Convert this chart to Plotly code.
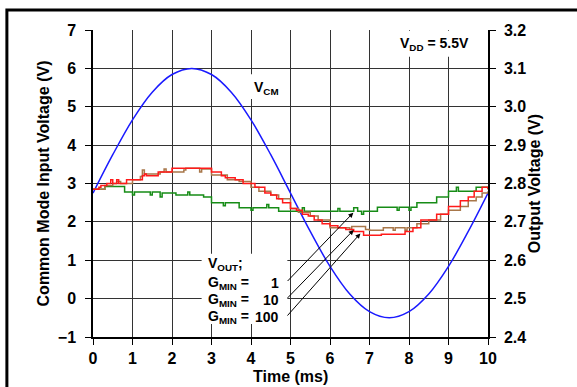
import plotly.graph_objects as go

# ---- data ----
# Common-mode input (left axis, V)
t_cm = [0, 0.5, 1.0, 1.5, 2.0, 2.5, 3.0, 3.5, 4.0, 4.5, 5.0,
        5.5, 6.0, 6.5, 7.0, 7.5, 8.0, 8.5, 9.0, 9.5, 10]
v_cm = [2.75, 3.75, 4.66, 5.38, 5.84, 6.00, 5.84, 5.38, 4.66, 3.75, 2.75,
        1.75, 0.84, 0.12, -0.34, -0.50, -0.34, 0.12, 0.84, 1.75, 2.75]

# Output voltage (right axis, V), stepped traces
t_g1 = [0, 0.3, 0.8, 1.0, 1.05, 1.45, 1.5, 1.7, 1.75, 2.1, 2.4, 2.45, 2.8, 3.0,
        3.3, 3.35, 3.7, 4.0, 4.05, 4.4, 4.45, 4.7, 5.3, 5.35, 6.2, 6.25, 6.6,
        6.7, 6.8, 6.85, 7.2, 7.7, 7.75, 8.0, 8.05, 8.2, 8.7, 9.0, 9.2, 9.25,
        9.7, 10]
v_g1 = [2.785, 2.792, 2.778, 2.770, 2.778, 2.770, 2.778, 2.765, 2.775, 2.770, 2.778, 2.770,
        2.765, 2.750, 2.742, 2.750, 2.737, 2.730, 2.737, 2.745, 2.737, 2.728, 2.737, 2.728,
        2.735, 2.728, 2.737, 2.728, 2.720, 2.728, 2.738, 2.730, 2.738, 2.730, 2.738, 2.750,
        2.765, 2.780, 2.790, 2.780, 2.790, 2.785]

t_g10 = [0, 0.3, 0.5, 0.6, 0.7, 1.0, 1.2, 1.25, 1.3, 1.7, 1.8, 1.85, 2.0, 2.3, 2.35,
         2.7, 2.75, 3.0, 3.4, 3.7, 4.0, 4.2, 4.5, 4.7, 5.0, 5.2, 5.5, 5.7, 6.0, 6.5,
         6.55, 6.9, 7.0, 7.3, 7.35, 7.6, 7.65, 7.9, 7.95, 8.2, 8.5, 8.8, 9.0, 9.3,
         9.5, 9.7, 9.85, 10]
v_g10 = [2.785, 2.795, 2.800, 2.805, 2.800, 2.810, 2.818, 2.835, 2.825, 2.830, 2.838, 2.830,
         2.830, 2.835, 2.840, 2.830, 2.838, 2.822, 2.810, 2.805, 2.790, 2.780, 2.770, 2.760,
         2.735, 2.725, 2.715, 2.705, 2.685, 2.680, 2.688, 2.680, 2.678, 2.678, 2.685, 2.678,
         2.685, 2.678, 2.685, 2.695, 2.705, 2.720, 2.730, 2.740, 2.755, 2.765, 2.775, 2.780]

t_g100 = [0, 0.15, 0.2, 0.35, 0.45, 0.5, 0.6, 0.65, 0.85, 1.25, 1.3, 1.35, 1.65, 2.0,
          3.0, 3.25, 3.35, 3.6, 3.8, 4.1, 4.35, 4.5, 4.65, 4.8, 5.0, 5.15, 5.3,
          5.45, 5.6, 5.8, 6.0, 6.2, 6.4, 6.6, 6.85, 7.3, 7.9, 8.1, 8.3, 8.7,
          9.0, 9.3, 9.5, 9.65, 9.85, 10]
v_g100 = [2.785, 2.790, 2.795, 2.800, 2.810, 2.800, 2.810, 2.800, 2.810, 2.820, 2.825, 2.820,
          2.830, 2.840, 2.830, 2.820, 2.815, 2.810, 2.800, 2.790, 2.775, 2.770, 2.760, 2.750,
          2.735, 2.730, 2.720, 2.715, 2.705, 2.695, 2.690, 2.685, 2.680, 2.675, 2.665, 2.668,
          2.675, 2.685, 2.705, 2.720, 2.740, 2.755, 2.765, 2.780, 2.790, 2.785]

x_ticks = list(range(0, 11))
left_ticks = list(range(-1, 8))
right_ticks = [2.4, 2.5, 2.6, 2.7, 2.8, 2.9, 3.0, 3.1, 3.2]

FONT = "Liberation Sans, Arial, sans-serif"
GRID = "#333333"

fig = go.Figure()

fig.add_trace(go.Scatter(x=t_g1, y=v_g1, yaxis="y2", mode="lines", line_shape="hv",
                         line=dict(color="#168c16", width=1.5), showlegend=False))
fig.add_trace(go.Scatter(x=t_g10, y=v_g10, yaxis="y2", mode="lines", line_shape="hv",
                         line=dict(color="#a8774a", width=1.5), showlegend=False))
fig.add_trace(go.Scatter(x=t_g100, y=v_g100, yaxis="y2", mode="lines", line_shape="hv",
                         line=dict(color="#ff1a1a", width=1.5), showlegend=False))
fig.add_trace(go.Scatter(x=t_cm, y=v_cm, mode="lines", line_shape="spline",
                         line=dict(color="#1a1aff", width=1.5), showlegend=False))

# white boxes behind the labels (between gridlines and traces)
fig.add_shape(type="rect", x0=2.75, x1=4.92, y0=-0.66, y1=1.17, xref="x", yref="y",
              fillcolor="white", line_width=0, layer="between")
fig.add_shape(type="rect", x0=3.95, x1=4.78, y0=5.2, y1=5.85, xref="x", yref="y",
              fillcolor="white", line_width=0, layer="between")
fig.add_shape(type="rect", x0=7.65, x1=9.6, y0=6.3, y1=6.98, xref="x", yref="y",
              fillcolor="white", line_width=0, layer="between")

# outer frame
fig.add_shape(type="rect", xref="paper", yref="paper", x0=-0.218, x1=1.4, y0=-0.4, y1=1.065,
              line=dict(color="black", width=3), fillcolor="rgba(0,0,0,0)")

lab = dict(family=FONT, size=14, color="black")
fig.add_annotation(x=4.4, y=5.5, text="<b>V<sub>CM</sub></b>", showarrow=False, font=lab)
fig.add_annotation(x=8.64, y=6.63, text="<b>V<sub>DD</sub> = 5.5V</b>", showarrow=False, font=lab)
fig.add_annotation(x=2.86, y=0.90, text="<b>V<sub>OUT</sub>;</b>", showarrow=False,
                   xanchor="left", font=lab)
for yy, num in zip([0.41, -0.03, -0.48], ["1", "10", "100"]):
    fig.add_annotation(x=2.86, y=yy, text="<b>G<sub>MIN</sub> =</b>", showarrow=False,
                       xanchor="left", font=lab)
    fig.add_annotation(x=4.76, y=yy, text="<b>" + num + "</b>", showarrow=False,
                       xanchor="right", font=lab)

# arrows from the G_MIN labels to the traces
for (x0, y0, x1, y1) in [(4.89, 0.42, 6.59, 2.24), (4.89, -0.02, 6.6, 1.79), (4.89, -0.48, 6.77, 1.70)]:
    fig.add_annotation(x=x1, y=y1, ax=x0, ay=y0, xref="x", yref="y", axref="x", ayref="y",
                       text="", showarrow=True, arrowhead=2, arrowsize=1, arrowwidth=1,
                       arrowcolor="black")

tickfont = dict(family=FONT, size=16, color="black", weight="bold")
titlefont = dict(family=FONT, size=16, color="black", weight="bold")

# x-axis title placed as an annotation so it sits right under the tick labels
fig.add_annotation(x=0.5, y=-0.130, xref="paper", yref="paper", text="Time (ms)",
                   showarrow=False, yanchor="middle", font=titlefont)

fig.update_layout(
    width=577, height=387,
    margin=dict(l=93, r=89, t=30, b=50),
    paper_bgcolor="white", plot_bgcolor="white",
    xaxis=dict(range=[0, 10], tickvals=x_ticks, showgrid=True, gridcolor=GRID, gridwidth=1,
               showline=True, linecolor="black", linewidth=1.5, ticks="outside", ticklen=6,
               tickcolor="black", tickfont=tickfont, zeroline=False, ticklabelstandoff=0),
    yaxis=dict(range=[-1, 7], tickvals=left_ticks, showgrid=True, gridcolor=GRID, gridwidth=1,
               showline=True, linecolor="black", linewidth=1.5, ticks="outside", ticklen=6,
               tickcolor="black", tickfont=tickfont, zeroline=False, ticklabelstandoff=6,
               title=dict(text="Common Mode Input Voltage (V)", font=titlefont, standoff=4)),
    yaxis2=dict(range=[2.4, 3.2], tickvals=right_ticks, tickformat=".1f", overlaying="y",
                side="right", showgrid=False, showline=True, linecolor="black", linewidth=1.5,
                ticks="outside", ticklen=6, tickcolor="black", tickfont=tickfont, zeroline=False,
                ticklabelstandoff=5,
                title=dict(text="Output Voltage (V)", font=titlefont, standoff=2)),
)

# drop the page's default body margin so the figure sits at the window corner
fig.write_html("out.html", config={"displayModeBar": False},
               post_script="document.body.style.margin='0';")
